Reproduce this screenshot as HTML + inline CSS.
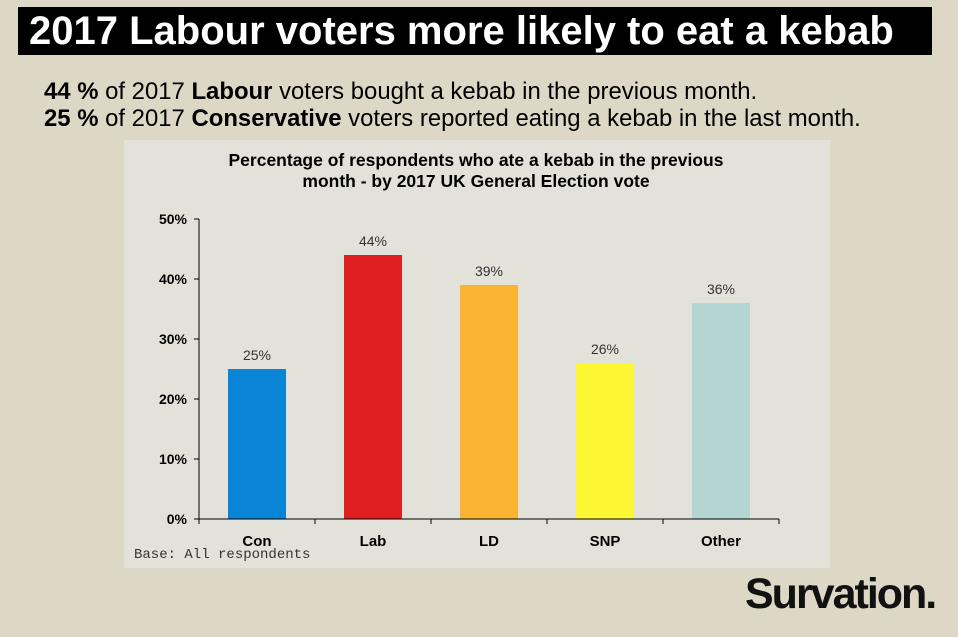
<!DOCTYPE html>
<html><head><meta charset="utf-8"><style>
body{margin:0;width:958px;height:637px;background:#ddd8c6;font-family:"Liberation Sans",Arial,sans-serif;position:relative;overflow:hidden}
.t{position:absolute;left:18px;top:7px;width:914px;height:48px;background:#000;color:#fff;font-weight:bold;font-size:40px;line-height:48px;padding-left:11px;box-sizing:border-box;white-space:nowrap}
.s{position:absolute;left:44px;font-size:23.9px;color:#000;white-space:nowrap}
.logo{position:absolute;left:745px;top:570px;font-size:43px;font-weight:bold;letter-spacing:-2px;color:#111}
</style></head><body>
<div class="t">2017 Labour voters more likely to eat a kebab</div>
<div class="s" style="top:78px"><b>44 %</b> of 2017 <b>Labour</b> voters bought a kebab in the previous month.</div>
<div class="s" style="top:105px"><b>25 %</b> of 2017 <b>Conservative</b> voters reported eating a kebab in the last month.</div>
<svg id="c" style="position:absolute;left:0;top:0" width="958" height="637">
<rect x="124" y="140" width="706" height="428" fill="#e2e2db"/>
<text x="476" y="166" text-anchor="middle" font-size="17.5" font-weight="bold" font-family="Liberation Sans,sans-serif">Percentage of respondents who ate a kebab in the previous</text>
<text x="476" y="187" text-anchor="middle" font-size="17.5" font-weight="bold" font-family="Liberation Sans,sans-serif">month - by 2017 UK General Election vote</text>
<text x="134" y="558" font-size="14" font-family="Liberation Mono,monospace" fill="#333">Base: All respondents</text>
<g id="g"></g>
</svg>
<div class="logo">Survation.</div>
<script>
const categories=["Con","Lab","LD","SNP","Other"];
const values=[25,44,39,26,36];
const colors=["#0a84d6","#e02020","#fbb432","#fdf632","#b3d6d2"];
const ticks=[0,10,20,30,40,50];
const X0=199,X1=779,Y0=519,Y1=219,MAX=50;
const band=(X1-X0)/categories.length;
const y=v=>Y0-(v/MAX)*(Y0-Y1);
const xc=i=>X0+band*(i+0.5);
const g=document.getElementById('g');const NS="http://www.w3.org/2000/svg";
function mk(t,a,txt){const e=document.createElementNS(NS,t);for(const k in a)e.setAttribute(k,a[k]);if(txt!=null)e.textContent=txt;g.appendChild(e);return e;}
ticks.forEach(t=>{
 const l=mk('line',{x1:X0-5,x2:X0,y1:y(t),y2:y(t),stroke:'#000'});
 
 
 const tx=mk('text',{x:X0-12,y:y(t)+5,'text-anchor':'end','font-size':14,'font-weight':'bold','font-family':'Liberation Sans,sans-serif'},t+'%');
 
 
});
categories.forEach((c,i)=>{
 const bw=58;
 const r=mk('rect',{x:xc(i)-bw/2,y:y(values[i]),width:bw,height:Y0-y(values[i]),fill:colors[i]});
 
 
 const v=mk('text',{x:xc(i),y:y(values[i])-9,'text-anchor':'middle','font-size':14,fill:'#333','font-family':'Liberation Sans,sans-serif'},values[i]+'%');
 
 
 const cl=mk('text',{x:xc(i),y:546,'text-anchor':'middle','font-size':15,'font-weight':'bold','font-family':'Liberation Sans,sans-serif'},c);
 
 
});
for(let i=0;i<=categories.length;i++){
 const t=mk('line',{x1:X0+band*i,x2:X0+band*i,y1:Y0,y2:Y0+5,stroke:'#000'});
 
 
}
const ya=mk('line',{x1:X0,x2:X0,y1:Y1,y2:Y0,stroke:'#000'});


const xa=mk('line',{x1:X0,x2:X1,y1:Y0,y2:Y0,stroke:'#000'});


</script>
</body></html>
